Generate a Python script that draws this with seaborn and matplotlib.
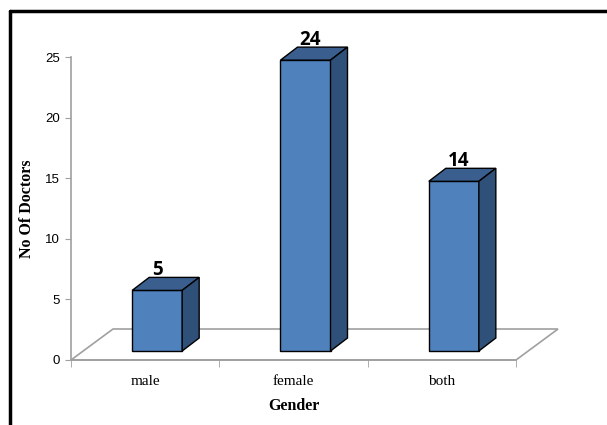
import pandas as pd
import seaborn as sns
import matplotlib.pyplot as plt
from matplotlib.patches import Polygon
from matplotlib.lines import Line2D

# data
genders = ['male', 'female', 'both']
doctors = [5, 24, 14]
y_ticks = [0, 5, 10, 15, 20, 25]

df = pd.DataFrame({'Gender': genders, 'No Of Doctors': doctors})

front_col = '#4F81BD'
top_col = '#3A5F8E'
side_col = '#2F5078'
grey = '#A0A0A0'

sns.set_style('white')
plt.rcParams['text.color'] = 'black'
plt.rcParams['axes.labelcolor'] = 'black'
plt.rcParams['xtick.color'] = 'black'
plt.rcParams['ytick.color'] = 'black'

fig = plt.figure(figsize=(6.07, 4.25), dpi=100)
W, H = 607, 425
ax = fig.add_axes([71 / W, (H - 360) / H, 445 / W, 303 / H])

# pixel -> data unit conversion
px_x = 3 / 445
px_y = 25 / 303

# bars (front faces), shifted into the floor depth
sns.barplot(data=df, x='Gender', y='No Of Doctors', color=front_col,
            width=50 / 148.3, saturation=1, edgecolor='black', linewidth=1,
            ax=ax, zorder=3)
ax.set_xlim(-0.5, 2.5)
ax.set_ylim(0, 25)

shift_x, shift_y = 12 * px_x, 9 * px_y
dep_x, dep_y = 17 * px_x, 13 * px_y

for p, v in zip(ax.patches, doctors):
    x0 = p.get_x() + shift_x
    w = p.get_width()
    p.set_x(x0)
    p.set_y(shift_y)
    x1 = x0 + w
    yt = shift_y + v
    yb = shift_y
    top = Polygon([(x0, yt), (x1, yt), (x1 + dep_x, yt + dep_y), (x0 + dep_x, yt + dep_y)],
                  closed=True, facecolor=top_col, edgecolor='black', lw=1, zorder=3, clip_on=False)
    side = Polygon([(x1, yb), (x1 + dep_x, yb + dep_y), (x1 + dep_x, yt + dep_y), (x1, yt)],
                   closed=True, facecolor=side_col, edgecolor='black', lw=1, zorder=3, clip_on=False)
    ax.add_patch(top)
    ax.add_patch(side)
    ax.annotate(str(v), (x0 + w / 2, yt), xytext=(5 if v >= 10 else 0, 10),
                textcoords='offset pixels', ha='center', va='bottom', color='black',
                fontsize=13.5, fontweight='bold', family='Open Sans', zorder=4)

# floor
fx, fy = 42 * px_x, 31 * px_y
floor = Polygon([(-0.5, 0), (2.5, 0), (2.5 + fx, fy), (-0.5 + fx, fy)], closed=True,
                facecolor='white', edgecolor=grey, lw=1.2, zorder=1, clip_on=False)
ax.add_patch(floor)

# axes styling
for s in ['top', 'right']:
    ax.spines[s].set_visible(False)
ax.spines['left'].set_color(grey)
ax.spines['bottom'].set_color(grey)
ax.spines['left'].set_linewidth(1.2)
ax.spines['bottom'].set_linewidth(1.2)

ax.set_yticks(y_ticks)
ax.set_yticklabels([str(t) for t in y_ticks], family='Liberation Sans', fontsize=9.5)
ax.tick_params(axis='y', length=4, color=grey, labelcolor='black', pad=4, left=True)
ax.set_xticks([0, 1, 2])
ax.set_xticklabels(genders, family='Liberation Serif', fontsize=11)
ax.tick_params(axis='x', length=0, pad=11, labelcolor='black')
ax.set_xticks([-0.5, 0.5, 1.5, 2.5], minor=True)
ax.tick_params(axis='x', which='minor', length=5, color=grey, bottom=True)

ax.set_xlabel('Gender', family='Liberation Serif', fontweight='bold', fontsize=11.5, labelpad=7)
ax.set_ylabel('No Of Doctors', family='Liberation Serif', fontweight='bold', fontsize=11.5, labelpad=7)

# frame around the chart (left and top edges)
fig.add_artist(Line2D([9.5 / W, 9.5 / W], [0, 1 - 11 / H], color='black', lw=2.5,
                      transform=fig.transFigure))
fig.add_artist(Line2D([9.5 / W, 1], [1 - 11 / H, 1 - 11 / H], color='black', lw=2.5,
                      transform=fig.transFigure))

fig.savefig('out.png', dpi=100)
